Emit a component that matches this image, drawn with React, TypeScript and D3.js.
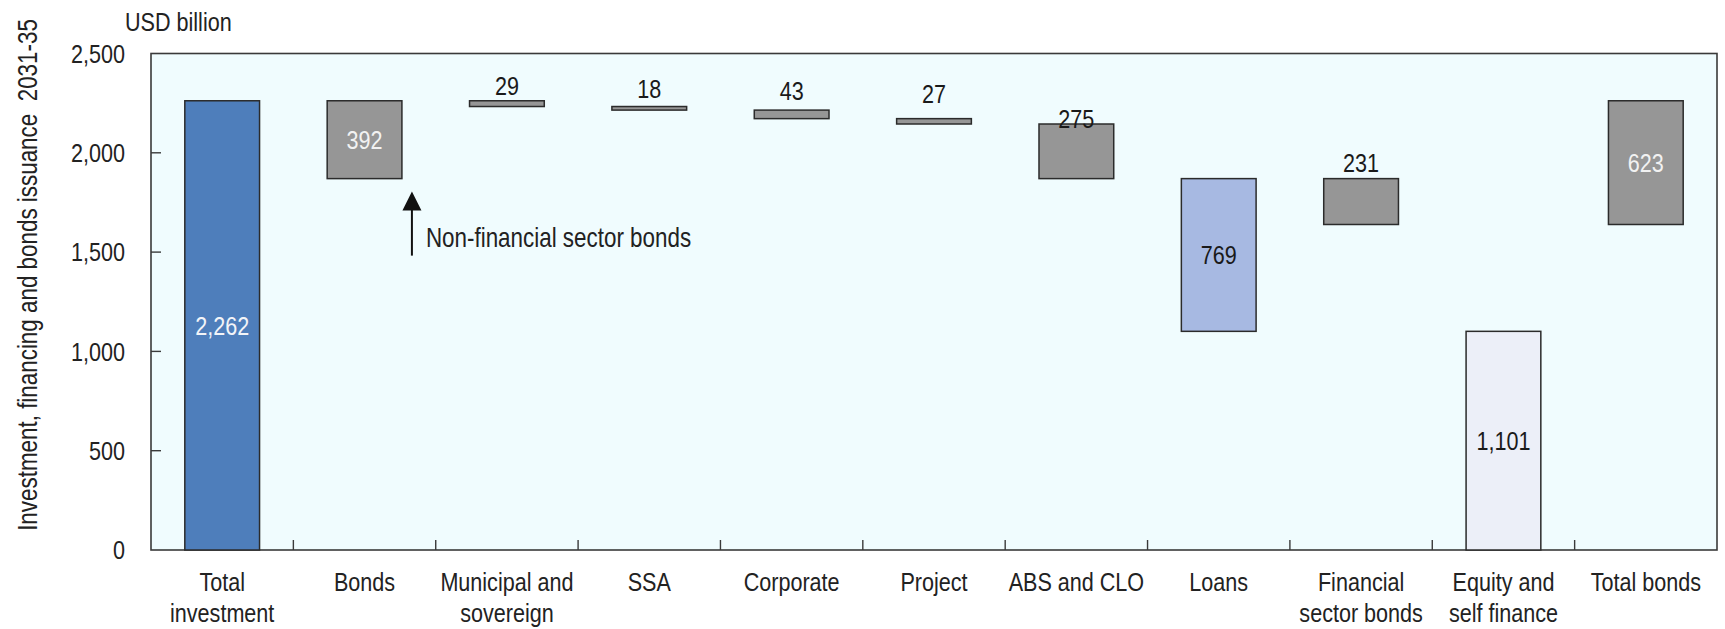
import React from "react";
import * as d3 from "d3";

// Waterfall of investment, financing and bonds issuance, 2031-35 (USD billion)
const categories = [
  "Total investment",
  "Bonds",
  "Municipal and sovereign",
  "SSA",
  "Corporate",
  "Project",
  "ABS and CLO",
  "Loans",
  "Financial sector bonds",
  "Equity and self finance",
  "Total bonds",
];

// Category axis labels, split over lines
const categoryLines = [
  ["Total", "investment"],
  ["Bonds"],
  ["Municipal and", "sovereign"],
  ["SSA"],
  ["Corporate"],
  ["Project"],
  ["ABS and CLO"],
  ["Loans"],
  ["Financial", "sector bonds"],
  ["Equity and", "self finance"],
  ["Total bonds"],
];

// Size of each step and the level it starts from
const values = [2262, 392, 29, 18, 43, 27, 275, 769, 231, 1101, 623];
const bases = [0, 1870, 2233, 2215, 2172, 2145, 1870, 1101, 1639, 0, 1639];

const yTicks = [0, 500, 1000, 1500, 2000, 2500];
const yDomain = [0, 2500];

const unitLabel = "USD billion";
const yTitle = "Investment, financing and bonds issuance\u00a0 2031-35";
const noteText = "Non-financial sector bonds";

// Fill per category
const fills = [
  "#4e7ebb",
  "#969696",
  "#969696",
  "#969696",
  "#969696",
  "#969696",
  "#969696",
  "#a7b9e2",
  "#969696",
  "#eceff8",
  "#969696",
];

type LabelStyle = { mode: "inside" | "above"; color: string; lift?: number };
const labelStyle: Record<string, LabelStyle> = {
  "Total investment": { mode: "inside", color: "#f2f4f8" },
  Bonds: { mode: "inside", color: "#f2f2f2" },
  "Municipal and sovereign": { mode: "above", color: "#1a1a1a", lift: 6 },
  SSA: { mode: "above", color: "#1a1a1a", lift: 9 },
  Corporate: { mode: "above", color: "#1a1a1a", lift: 10 },
  Project: { mode: "above", color: "#1a1a1a", lift: 16 },
  "ABS and CLO": { mode: "above", color: "#1a1a1a", lift: -4 },
  Loans: { mode: "inside", color: "#1a1a1a" },
  "Financial sector bonds": { mode: "above", color: "#1a1a1a", lift: 7 },
  "Equity and self finance": { mode: "inside", color: "#1a1a1a" },
  "Total bonds": { mode: "inside", color: "#f2f2f2" },
};

const FONT = '"Liberation Sans", Arial, sans-serif';
const NARROW = 0.83; // condensed look of the chart's typeface
const W = 1725;
const H = 629;
const M = { left: 151, right: 1717, top: 53.5, bottom: 550 };

const fmt = d3.format(",");

type NTextProps = {
  x: number;
  y: number;
  anchor?: "start" | "middle" | "end";
  size?: number;
  fill?: string;
  dy?: string;
  rotate?: number;
  children: React.ReactNode;
};

// Text drawn with a horizontally condensed face
function NText({ x, y, anchor = "start", size = 26, fill = "#222", dy, rotate, children }: NTextProps) {
  const rot = rotate ? ` rotate(${rotate})` : "";
  return (
    <text
      transform={`translate(${x},${y})${rot} scale(${NARROW},1)`}
      textAnchor={anchor}
      fontSize={size}
      fill={fill}
      dy={dy}
    >
      {children}
    </text>
  );
}

export default function App() {
  const x = d3
    .scaleBand<string>()
    .domain(categories)
    .range([M.left, M.right])
    .paddingInner(0.475)
    .paddingOuter(0.2375);
  const y = d3.scaleLinear().domain(yDomain).range([M.bottom, M.top]);
  const step = x.step();
  const bw = x.bandwidth();

  const bondsX = (x("Bonds") ?? 0) + bw;
  const bondsBottom = y(bases[1]);
  const arrowX = bondsX + 10;

  return (
    <svg
      width={W}
      height={H}
      style={{ position: "absolute", left: 0, top: 0, fontFamily: FONT }}
    >
      <rect x={0} y={0} width={W} height={H} fill="#ffffff" />
      {/* plot area */}
      <rect
        x={M.left}
        y={M.top}
        width={M.right - M.left}
        height={M.bottom - M.top}
        fill="#f0fcfe"
        stroke="#3a3a3a"
        strokeWidth={1.6}
      />

      {/* y axis ticks and labels */}
      {yTicks.map((t) => (
        <g key={t}>
          {t > yDomain[0] && t < yDomain[1] && (
            <line x1={M.left} x2={M.left + 10} y1={y(t)} y2={y(t)} stroke="#3a3a3a" strokeWidth={1.4} />
          )}
          <NText x={125} y={y(t)} dy="0.36em" anchor="end">
            {fmt(t)}
          </NText>
        </g>
      ))}

      {/* category boundary ticks */}
      {categories.slice(1).map((c, i) => {
        const bx = M.left + (i + 1) * step;
        return <line key={c} x1={bx} x2={bx} y1={M.bottom} y2={M.bottom - 10} stroke="#3a3a3a" strokeWidth={1.4} />;
      })}

      {/* bars */}
      {categories.map((c, i) => {
        const top = y(bases[i] + values[i]);
        const bottom = y(bases[i]);
        return (
          <rect
            key={c}
            x={x(c)}
            y={top}
            width={bw}
            height={bottom - top}
            fill={fills[i]}
            stroke="#2b2b2b"
            strokeWidth={1.5}
          />
        );
      })}

      {/* value labels */}
      {categories.map((c, i) => {
        const s = labelStyle[c];
        const cx = (x(c) ?? 0) + bw / 2;
        const top = y(bases[i] + values[i]);
        const bottom = y(bases[i]);
        if (s.mode === "inside") {
          return (
            <NText key={c} x={cx} y={(top + bottom) / 2} dy="0.36em" anchor="middle" fill={s.color}>
              {fmt(values[i])}
            </NText>
          );
        }
        return (
          <NText key={c} x={cx} y={top - (s.lift ?? 6)} anchor="middle" fill={s.color}>
            {fmt(values[i])}
          </NText>
        );
      })}

      {/* category labels */}
      {categories.map((c, i) => {
        const cx = (x(c) ?? 0) + bw / 2;
        return (
          <NText key={c} x={cx} y={591} anchor="middle">
            {categoryLines[i].map((ln, j) => (
              <tspan key={j} x={0} dy={j === 0 ? 0 : 30.7}>
                {ln}
              </tspan>
            ))}
          </NText>
        );
      })}

      {/* annotation arrow */}
      <line x1={arrowX} x2={arrowX} y1={bondsBottom + 77} y2={bondsBottom + 30} stroke="#111" strokeWidth={2} />
      <path
        d={`M${arrowX},${bondsBottom + 13} L${arrowX - 9.5},${bondsBottom + 32} L${arrowX + 9.5},${bondsBottom + 32} Z`}
        fill="#111"
      />
      <NText x={arrowX + 14} y={bondsBottom + 68} size={27}>
        {noteText}
      </NText>

      {/* unit and axis title */}
      <NText x={125} y={30.7}>
        {unitLabel}
      </NText>
      <NText x={37} y={275} rotate={-90} anchor="middle" size={27}>
        {yTitle}
      </NText>
    </svg>
  );
}
